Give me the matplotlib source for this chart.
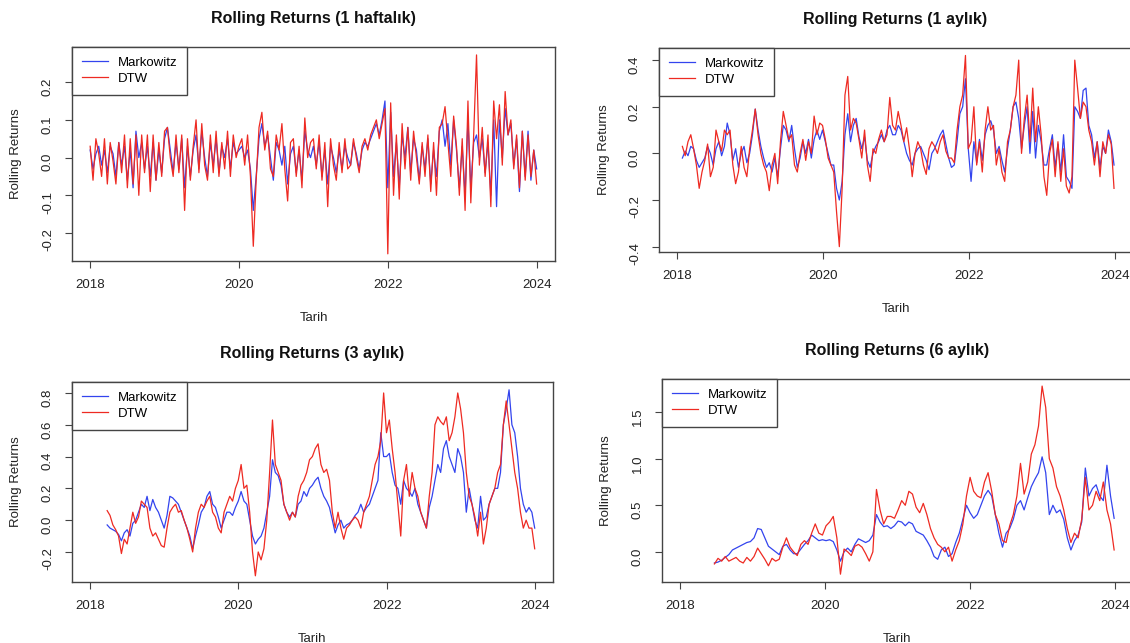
import pandas as pd
import matplotlib
matplotlib.use('Agg')
import matplotlib.pyplot as plt
from matplotlib.ticker import FormatStrFormatter

plt.rcParams['font.family'] = ['Liberation Sans', 'DejaVu Sans']

# --- data (biweekly-ish samples) ---
# 1 haftalik
mk_1w = [
    0.02, -0.03, 0.01, 0.03, -0.02, 0.02, -0.04, 0.03, 0.01, -0.05, 0.04, -0.02, 0.03,
    -0.06, 0.02, -0.08, 0.07, 0.0, 0.04, -0.03, 0.03, -0.05, 0.04, -0.06, 0.02, -0.04,
    0.05, 0.08, 0.02, -0.04, 0.04, -0.03, 0.05, -0.08, 0.03, -0.05, 0.02, 0.06, -0.03,
    0.07, 0.0, -0.05, 0.04, -0.02, 0.05, -0.04, 0.03, 0.0, 0.05, -0.03, 0.04, 0.01,
    0.02, 0.03, 0.0, 0.02, -0.03, -0.14, -0.05, 0.05, 0.09, 0.03, 0.06, 0.0, -0.06,
    0.04, 0.02, -0.02, 0.03, -0.07, 0.01, 0.03, -0.04, 0.02, -0.06, 0.07, 0.02, 0.0,
    0.03, -0.02, 0.04, -0.05, 0.02, -0.07, 0.03, 0.0, -0.04, 0.02, -0.03, 0.03, 0.0,
    -0.02, 0.04, 0.01, -0.03, 0.02, 0.04, 0.03, 0.05, 0.07, 0.09, 0.06, 0.1, 0.15,
    -0.08, 0.12, -0.05, 0.04, -0.08, 0.06, 0.0, 0.08, -0.04, 0.05, 0.02, -0.06, 0.03,
    -0.03, 0.05, -0.07, 0.02, -0.05, 0.07, 0.1, 0.03, 0.09, -0.02, 0.1, 0.02, -0.08,
    0.03, -0.1, 0.1, -0.08, 0.04, 0.06, 0.0, 0.05, -0.04, 0.04, -0.1, 0.1, -0.13,
    0.1, 0.0, 0.13, 0.06, 0.09, -0.02, 0.05, -0.09, 0.07, -0.05, 0.07, -0.06, 0.02,
    -0.03,
]
dtw_1w = [
    0.03, -0.06, 0.05, 0.01, -0.05, 0.05, -0.07, 0.04, -0.01, -0.07, 0.04, -0.04, 0.06,
    -0.08, 0.05, -0.07, 0.06, -0.1, 0.06, -0.04, 0.06, -0.09, 0.06, -0.06, 0.04, -0.05,
    0.07, 0.08, 0.0, -0.05, 0.06, -0.04, 0.06, -0.14, 0.05, -0.06, 0.03, 0.1, -0.04,
    0.09, -0.02, -0.06, 0.06, -0.04, 0.07, -0.05, 0.04, -0.03, 0.07, -0.05, 0.06, 0.0,
    0.03, 0.05, -0.02, 0.06, -0.05, -0.235, -0.06, 0.08, 0.12, 0.02, 0.07, -0.03, -0.05,
    0.06, 0.02, 0.09, -0.03, -0.115, 0.04, 0.05, -0.05, 0.03, -0.08, 0.105, 0.0, 0.04,
    0.05, -0.03, 0.06, -0.06, 0.04, -0.13, 0.05, -0.02, -0.06, 0.04, -0.04, 0.05, -0.03,
    -0.02, 0.05, 0.0, -0.04, 0.03, 0.05, 0.02, 0.06, 0.08, 0.1, 0.05, 0.09, 0.13,
    -0.255, 0.145, -0.1, 0.06, -0.11, 0.09, -0.03, 0.08, -0.06, 0.07, 0.0, -0.07, 0.04,
    -0.05, 0.06, -0.09, 0.04, -0.1, 0.08, 0.09, 0.135, 0.04, -0.05, 0.11, 0.03, -0.1,
    0.05, -0.14, 0.15, -0.12, 0.06, 0.272, -0.02, 0.08, -0.05, 0.06, -0.13, 0.15, 0.05,
    0.14, -0.02, 0.175, 0.06, 0.1, -0.03, 0.06, -0.08, 0.07, -0.06, 0.06, -0.05, 0.02,
    -0.07,
]

# 1 aylik
mk_1m = [
    -0.02, 0.01, -0.01, 0.03, 0.02, -0.03, -0.06, -0.04, -0.02, 0.03, 0.0, -0.05,
    0.02, 0.05, -0.01, 0.03, 0.13, 0.08, -0.03, 0.02, -0.06, 0.0, 0.03, -0.04,
    0.0, 0.08, 0.19, 0.1, 0.03, -0.02, -0.06, -0.04, -0.08, -0.02, -0.1, 0.02, 0.12,
    0.1, 0.05, 0.12, 0.02, -0.06, -0.02, 0.05, 0.0, 0.06, -0.02, 0.06, 0.1, 0.06,
    0.1, 0.05, 0.0, -0.05, -0.05, -0.15, -0.2, -0.12, 0.08, 0.17, 0.05, 0.12, 0.15,
    0.07, 0.02, 0.07, -0.03, -0.06, 0.0, 0.03, 0.05, 0.08, 0.05, 0.1, 0.12, 0.08,
    0.08, 0.12, 0.1, 0.05, 0.0, -0.03, -0.05, 0.0, 0.02, 0.03, 0.0, -0.03, -0.07,
    0.0, 0.02, 0.05, 0.08, 0.1, 0.04, -0.02, -0.06, -0.05, 0.05, 0.17, 0.2, 0.32,
    0.02, -0.12, 0.05, -0.04, 0.06, -0.03, 0.08, 0.12, 0.14, 0.1, 0.0, 0.03, -0.03,
    -0.08, 0.02, 0.1, 0.2, 0.22, 0.15, 0.02, 0.12, 0.2, 0.0, 0.18, -0.02, 0.12,
    0.05, -0.05, -0.05, 0.02, 0.08, -0.06, 0.04, -0.08, 0.08, -0.1, -0.12, -0.15, 0.2,
    0.18, 0.15, 0.27, 0.28, 0.12, 0.08, -0.02, 0.05, -0.06, 0.03, 0.0, 0.1, 0.05,
    -0.05,
]
dtw_1m = [
    0.03, -0.01, 0.05, 0.08, 0.02, -0.05, -0.15, -0.08, -0.03, 0.04, -0.1, -0.06,
    0.1, 0.05, 0.01, 0.1, 0.08, 0.1, -0.05, -0.13, -0.08, 0.03, -0.06, -0.1,
    0.02, 0.1, 0.19, 0.08, 0.0, -0.05, -0.08, -0.16, -0.05, 0.0, -0.13, 0.05, 0.18,
    0.12, 0.06, 0.08, -0.05, -0.08, 0.0, 0.06, -0.03, 0.05, 0.0, 0.16, 0.08, 0.13,
    0.12, 0.06, -0.02, -0.05, -0.08, -0.25, -0.4, -0.15, 0.25, 0.33, 0.1, 0.15, 0.13,
    0.06, -0.02, 0.1, -0.05, -0.12, 0.02, 0.0, 0.06, 0.1, 0.05, 0.08, 0.24, 0.12,
    0.1, 0.18, 0.12, 0.05, 0.11, 0.02, -0.1, 0.0, 0.05, 0.02, -0.05, -0.09, 0.02,
    0.05, 0.03, 0.0, 0.05, 0.08, 0.01, -0.02, -0.02, -0.04, 0.1, 0.2, 0.25, 0.42,
    0.02, 0.05, 0.2, -0.05, 0.05, -0.08, 0.1, 0.2, 0.1, 0.12, -0.05, 0.02, -0.08,
    -0.12, 0.05, 0.1, 0.2, 0.25, 0.4, 0.0, 0.15, 0.25, 0.05, 0.28, 0.05, 0.2,
    0.08, -0.1, -0.18, 0.0, 0.06, -0.1, 0.05, -0.12, 0.02, -0.14, -0.17, -0.1, 0.4,
    0.28, 0.15, 0.22, 0.2, 0.1, 0.05, -0.05, 0.05, -0.1, 0.05, 0.0, 0.08, 0.04,
    -0.15,
]

# 3 aylik
mk_3m = [
    -0.03, -0.05, -0.06, -0.07, -0.09, -0.13, -0.08, -0.06, -0.1, -0.02,
    0.0, 0.05, 0.1, 0.08, 0.15, 0.06, 0.13, 0.08, 0.05, 0.0,
    -0.05, 0.03, 0.15, 0.14, 0.12, 0.1, 0.05, 0.0, -0.05, -0.1, -0.18, -0.1, -0.03,
    0.05, 0.08, 0.15, 0.18, 0.1, 0.08, 0.02, -0.05, 0.0, 0.05, 0.05, 0.03, 0.08,
    0.12, 0.18, 0.12, 0.1, 0.0, -0.1, -0.15, -0.12, -0.1, -0.05, 0.05, 0.15, 0.38,
    0.3, 0.28, 0.22, 0.1, 0.05, 0.02, 0.05, 0.02, 0.1, 0.12, 0.18, 0.15, 0.2,
    0.22, 0.25, 0.27, 0.2, 0.15, 0.12, 0.08, 0.0, -0.08, -0.03, 0.0, -0.05, -0.03,
    -0.02, 0.0, 0.03, 0.05, 0.1, 0.05, 0.08, 0.1, 0.15, 0.2, 0.25, 0.55, 0.4,
    0.4, 0.42, 0.3, 0.22, 0.2, 0.1, 0.25, 0.2, 0.18, 0.15, 0.2, 0.1, 0.05,
    0.0, -0.05, 0.08, 0.15, 0.25, 0.35, 0.3, 0.45, 0.5, 0.4, 0.35, 0.3, 0.45,
    0.4, 0.3, 0.05, 0.2, 0.1, 0.0, -0.05, 0.15, 0.0, 0.02, 0.1, 0.15, 0.2,
    0.2, 0.3, 0.6, 0.7, 0.82, 0.6, 0.55, 0.4, 0.2, 0.1, 0.05, 0.08, 0.05,
    -0.05,
]
dtw_3m = [
    0.06, 0.03, -0.03, -0.06, -0.1, -0.21, -0.12, -0.15, -0.05, 0.05,
    -0.02, 0.02, 0.12, 0.1, 0.08, -0.05, -0.1, -0.08, -0.12, -0.16,
    -0.17, -0.05, 0.05, 0.08, 0.1, 0.05, 0.06, 0.0, -0.05, -0.12, -0.2, -0.05, 0.05,
    0.1, 0.08, 0.12, 0.15, 0.05, 0.02, -0.05, -0.08, 0.05, 0.1, 0.15, 0.12, 0.2,
    0.25, 0.35, 0.2, 0.22, 0.05, -0.2, -0.35, -0.2, -0.25, -0.18, 0.0, 0.3, 0.63,
    0.35, 0.3, 0.25, 0.1, 0.05, 0.0, 0.05, 0.02, 0.15, 0.22, 0.25, 0.3, 0.38,
    0.4, 0.45, 0.48, 0.35, 0.3, 0.32, 0.25, 0.05, -0.05, 0.05, -0.05, -0.12, -0.05,
    -0.03, 0.0, 0.02, 0.0, -0.05, 0.05, 0.1, 0.15, 0.25, 0.35, 0.4, 0.5, 0.8,
    0.55, 0.63, 0.45, 0.3, 0.1, -0.1, 0.25, 0.35, 0.15, 0.3, 0.2, 0.15, 0.05,
    0.0, -0.05, 0.15, 0.3, 0.6, 0.65, 0.62, 0.6, 0.65, 0.5, 0.55, 0.65, 0.8,
    0.7, 0.55, 0.3, 0.15, 0.1, 0.02, -0.1, 0.05, -0.15, -0.05, 0.1, 0.15, 0.2,
    0.3, 0.35, 0.6, 0.75, 0.6, 0.45, 0.3, 0.2, 0.05, -0.05, 0.0, -0.05, -0.05,
    -0.18,
]

# 6 aylik
mk_6m = [
    -0.12, -0.11, -0.09, -0.06, -0.03, 0.02, 0.04, 0.06, 0.08, 0.1,
    0.11, 0.15, 0.25, 0.24, 0.15, 0.06, 0.03, 0.0, -0.03, 0.06,
    0.08, 0.02, -0.02, -0.02, 0.03, 0.08, 0.12, 0.18, 0.15, 0.12,
    0.13, 0.12, 0.13, 0.11, 0.02, -0.1, 0.0, 0.04, 0.0, 0.08,
    0.14, 0.12, 0.1, 0.12, 0.18, 0.4, 0.32, 0.27, 0.28, 0.25,
    0.28, 0.33, 0.32, 0.28, 0.32, 0.3, 0.22, 0.2, 0.18, 0.12,
    0.05, -0.05, -0.08, 0.02, 0.05, -0.05, -0.02, 0.1, 0.2, 0.35,
    0.5, 0.42, 0.36, 0.4, 0.5, 0.6, 0.66, 0.6, 0.4, 0.2,
    0.05, 0.2, 0.25, 0.35, 0.5, 0.55, 0.45, 0.58, 0.7, 0.78,
    0.85, 1.02, 0.85, 0.4, 0.5, 0.42, 0.45, 0.35, 0.15, 0.02,
    0.12, 0.18, 0.32, 0.9, 0.6, 0.68, 0.72, 0.6, 0.55, 0.93,
    0.6, 0.36,
]
dtw_6m = [
    -0.13, -0.07, -0.1, -0.05, -0.1, -0.08, -0.06, -0.1, -0.12, -0.06,
    -0.1, -0.05, 0.04, -0.02, -0.08, -0.15, -0.07, -0.1, -0.08, 0.05,
    0.15, 0.05, 0.0, -0.04, 0.08, 0.12, 0.08, 0.2, 0.3, 0.2,
    0.18, 0.28, 0.32, 0.38, 0.15, -0.24, 0.03, 0.0, -0.04, 0.06,
    0.08, 0.05, -0.02, -0.1, 0.0, 0.67, 0.45, 0.3, 0.38, 0.38,
    0.36, 0.45, 0.55, 0.5, 0.65, 0.62, 0.48, 0.42, 0.52, 0.4,
    0.25, 0.15, 0.08, 0.05, 0.0, 0.05, -0.1, 0.02, 0.12, 0.3,
    0.6, 0.8, 0.65, 0.6, 0.58, 0.75, 0.85, 0.65, 0.4, 0.3,
    0.12, 0.1, 0.28, 0.4, 0.6, 0.95, 0.62, 0.75, 1.05, 1.15,
    1.35, 1.78, 1.55, 1.0, 0.9, 0.7, 0.6, 0.45, 0.25, 0.1,
    0.2, 0.15, 0.35, 0.8, 0.45, 0.5, 0.65, 0.55, 0.75, 0.45,
    0.3, 0.02,
]

years = [2018, 2020, 2022, 2024]

blue = '#3344ee'
red = '#ee2a22'
edge = '#444444'
W, H = 1130, 643


def box(l, t, r, b):
    'pixel box -> figure fraction'
    return [l / W, 1 - b / H, (r - l) / W, (b - t) / H]


def panel(ax, title, mk, dtw, start, ylim, yticks):
    dates = pd.date_range(start, '2023-12-29', periods=len(mk))
    ax.plot(dates, mk, color=blue, lw=0.9, label='Markowitz')
    ax.plot(dates, dtw, color=red, lw=0.9, label='DTW')
    ax.set_xlim(pd.Timestamp('2017-10-04'), pd.Timestamp('2024-03-28'))
    ax.set_xticks([pd.Timestamp(f'{y}-01-01') for y in years])
    ax.set_xticklabels([str(y) for y in years])
    ax.set_ylim(*ylim)
    ax.set_yticks(yticks)
    ax.yaxis.set_major_formatter(FormatStrFormatter('%.1f'))
    ax.tick_params(direction='out', length=5, width=0.8, color=edge,
                   pad=8, labelsize=9.5, labelcolor='#222222')
    ax.tick_params(axis='y', labelrotation=90)
    for s in ax.spines.values():
        s.set_color(edge)
        s.set_linewidth(1.0)
    ax.set_title(title, fontsize=11.5, fontweight='bold', pad=17, color='#111111')
    ax.set_xlabel('Tarih', fontsize=9.5, labelpad=15, color='#222222')
    ax.set_ylabel('Rolling Returns', fontsize=9.5, labelpad=14, color='#222222')
    leg = ax.legend(loc='upper left', borderaxespad=0, fancybox=False,
                    framealpha=1, edgecolor=edge, fontsize=9.5,
                    handlelength=2.0, handletextpad=0.75, borderpad=0.73,
                    labelspacing=0.3)
    leg.get_frame().set_linewidth(1.0)


fig = plt.figure(figsize=(11.3, 6.43), dpi=100)

ax1 = fig.add_axes(box(72, 47, 555, 261))
panel(ax1, 'Rolling Returns (1 haftalık)', mk_1w, dtw_1w, '2018-01-01',
      (-0.274, 0.293), [-0.2, -0.1, 0.0, 0.1, 0.2])

ax2 = fig.add_axes(box(659, 48, 1132, 252))
panel(ax2, 'Rolling Returns (1 aylık)', mk_1m, dtw_1m, '2018-01-29',
      (-0.423, 0.452), [-0.4, -0.2, 0.0, 0.2, 0.4])

ax3 = fig.add_axes(box(72, 382, 553, 582))
panel(ax3, 'Rolling Returns (3 aylık)', mk_3m, dtw_3m, '2018-03-26',
      (-0.389, 0.869), [-0.2, 0.0, 0.2, 0.4, 0.6, 0.8])

ax4 = fig.add_axes(box(662, 379, 1132, 582))
panel(ax4, 'Rolling Returns (6 aylık)', mk_6m, dtw_6m, '2018-06-25',
      (-0.324, 1.856), [0.0, 0.5, 1.0, 1.5])

fig.savefig('out.png', dpi=100)
